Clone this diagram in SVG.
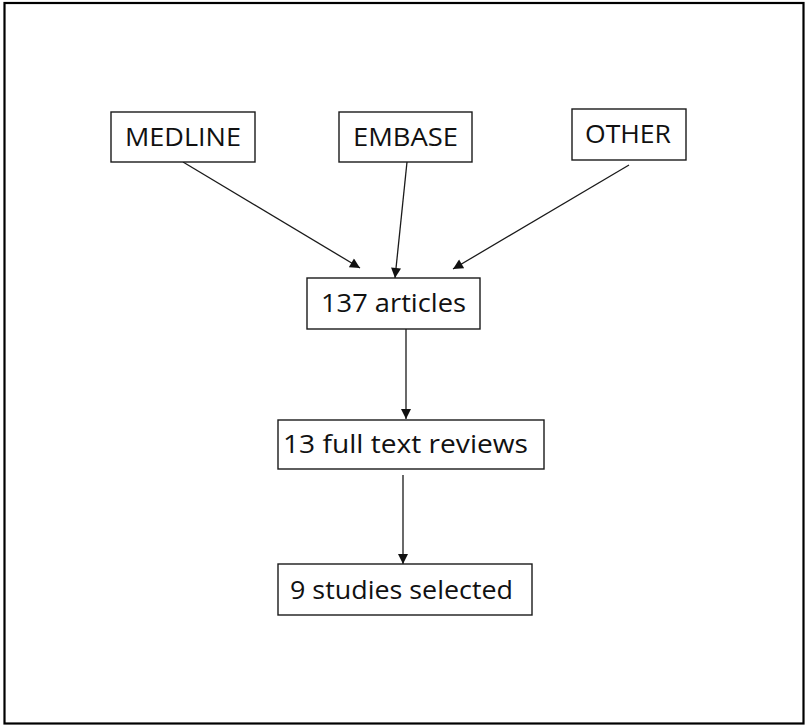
<svg xmlns="http://www.w3.org/2000/svg" width="807" height="725" viewBox="0 0 807 725">
  <style>
    .box { fill: #ffffff; stroke: #1a1a1a; stroke-width: 1.4; }
    .lbl { font-family: "Open Sans", "Liberation Sans", Arial, sans-serif; font-size: 26px; fill: #111111; text-anchor: middle; }
    .edge { stroke: #1a1a1a; stroke-width: 1.3; fill: none; marker-end: url(#head); }
  </style>
  <defs>
    <marker id="head" viewBox="0 0 10 10" refX="10" refY="5" markerUnits="userSpaceOnUse" markerWidth="11" markerHeight="10" orient="auto">
      <path d="M0,0 L10,5 L0,10 Z" fill="#111111"/>
    </marker>
  </defs>

  <rect x="0" y="0" width="807" height="725" fill="#ffffff"/>
  <!-- outer frame -->
  <rect x="4.5" y="3" width="799" height="720.5" fill="none" stroke="#000000" stroke-width="2.2"/>

  <g id="connectors">
    <line class="edge" x1="183" y1="162" x2="360" y2="268"/>
    <line class="edge" x1="407" y1="162" x2="395" y2="278"/>
    <line class="edge" x1="629" y1="165" x2="453" y2="269"/>
    <line class="edge" x1="406" y1="329" x2="406" y2="419"/>
    <line class="edge" x1="403" y1="475" x2="403" y2="564"/>
  </g>

  <g id="medline">
    <rect class="box" x="111" y="112" width="144" height="50"/>
    <text class="lbl" x="183" y="146" textLength="116" lengthAdjust="spacingAndGlyphs">MEDLINE</text>
  </g>
  <g id="embase">
    <rect class="box" x="339" y="112" width="133" height="50"/>
    <text class="lbl" x="405.5" y="146" textLength="105" lengthAdjust="spacingAndGlyphs">EMBASE</text>
  </g>
  <g id="other">
    <rect class="box" x="572" y="109" width="114" height="51"/>
    <text class="lbl" x="628" y="143" textLength="86" lengthAdjust="spacingAndGlyphs">OTHER</text>
  </g>
  <g id="articles">
    <rect class="box" x="307" y="278" width="173" height="51"/>
    <text class="lbl" x="393.5" y="312" textLength="145" lengthAdjust="spacingAndGlyphs">137 articles</text>
  </g>
  <g id="reviews">
    <rect class="box" x="278" y="420" width="266" height="49"/>
    <text class="lbl" x="405.5" y="453" textLength="245" lengthAdjust="spacingAndGlyphs">13 full text reviews</text>
  </g>
  <g id="selected">
    <rect class="box" x="278" y="564" width="254" height="51"/>
    <text class="lbl" x="401.5" y="599" textLength="223" lengthAdjust="spacingAndGlyphs">9 studies selected</text>
  </g>
</svg>
